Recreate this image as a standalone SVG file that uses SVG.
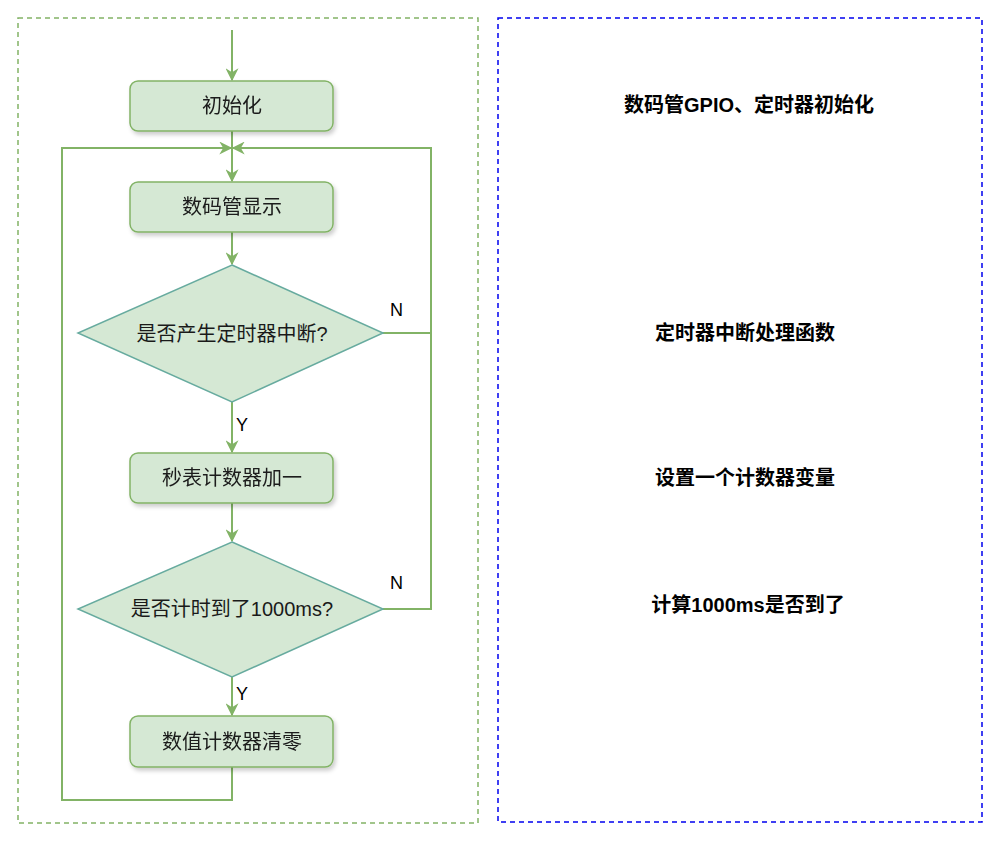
<svg xmlns="http://www.w3.org/2000/svg" width="1000" height="842" viewBox="0 0 1000 842">
<style>
.box{fill:#d5e8d4;stroke:#82b366;stroke-width:1.5}
.dia{fill:#d5e8d4;stroke:#67ab9f;stroke-width:1.5}
.t{font-family:"Liberation Sans","Noto Sans CJK SC",sans-serif;font-size:20px;fill:#1a1a1a;text-anchor:middle;dominant-baseline:central}
.b{font-family:"Liberation Sans","Noto Sans CJK SC",sans-serif;font-size:20px;font-weight:bold;fill:#000;text-anchor:middle;dominant-baseline:central}
.c{fill:none;stroke:#82b366;stroke-width:2}
.lbl{font-family:"Liberation Sans",sans-serif;font-size:18px;fill:#000}
</style>
<defs>
<marker id="ah" viewBox="0 0 10 10" refX="9" refY="5" markerWidth="14" markerHeight="13" markerUnits="userSpaceOnUse" orient="auto">
<path d="M0,0 L10,5 L0,10 L3,5 Z" fill="#82b366"/>
</marker>
<filter id="sh" x="-10%" y="-10%" width="130%" height="140%">
<feDropShadow dx="2" dy="3" stdDeviation="2" flood-color="#000" flood-opacity="0.2"/>
</filter>
</defs>
<rect x="18" y="18" width="460" height="805" fill="none" stroke="#82b366" stroke-width="1.5" stroke-dasharray="5 4"/>
<rect x="498" y="18" width="484" height="804" fill="none" stroke="#0000ee" stroke-width="1.5" stroke-dasharray="5 4"/>
<g id="connectors">
<path class="c" d="M232,30 V80" marker-end="url(#ah)"/>
<path class="c" d="M232,131 V181" marker-end="url(#ah)"/>
<path class="c" d="M232,232 V264" marker-end="url(#ah)"/>
<path class="c" d="M232,402 V452" marker-end="url(#ah)"/>
<path class="c" d="M232,503 V541" marker-end="url(#ah)"/>
<path class="c" d="M232,677 V715" marker-end="url(#ah)"/>
<path class="c" d="M383,333 H431"/>
<path class="c" d="M383,609 H431 V148 H233" marker-end="url(#ah)"/>
<path class="c" d="M232,767 V800 H62 V148 H231" marker-end="url(#ah)"/>
<text class="lbl" x="390" y="316">N</text>
<text class="lbl" x="390" y="589">N</text>
<text class="lbl" x="236" y="431">Y</text>
<text class="lbl" x="236" y="700">Y</text>
</g>
<g id="n-init" filter="url(#sh)"><rect class="box" x="130" y="81" width="203" height="50" rx="8"/><text class="t" x="232" y="106">初始化</text></g>
<g id="n-display" filter="url(#sh)"><rect class="box" x="130" y="182" width="203" height="50" rx="8"/><text class="t" x="232" y="207">数码管显示</text></g>
<g id="n-dec1"><polygon class="dia" points="232,265 383,333 232,402 78,333"/><text class="t" x="232" y="334">是否产生定时器中断?</text></g>
<g id="n-inc" filter="url(#sh)"><rect class="box" x="130" y="453" width="203" height="50" rx="8"/><text class="t" x="232" y="478">秒表计数器加一</text></g>
<g id="n-dec2"><polygon class="dia" points="232,542 383,609 232,677 78,609"/><text class="t" x="232" y="609">是否计时到了1000ms?</text></g>
<g id="n-clear" filter="url(#sh)"><rect class="box" x="130" y="716" width="203" height="51" rx="8"/><text class="t" x="232" y="742">数值计数器清零</text></g>
<g id="notes">
<text class="b" x="749" y="105">数码管GPIO、定时器初始化</text>
<text class="b" x="745" y="333">定时器中断处理函数</text>
<text class="b" x="745" y="478">设置一个计数器变量</text>
<text class="b" x="748" y="605">计算1000ms是否到了</text>
</g>
</svg>
